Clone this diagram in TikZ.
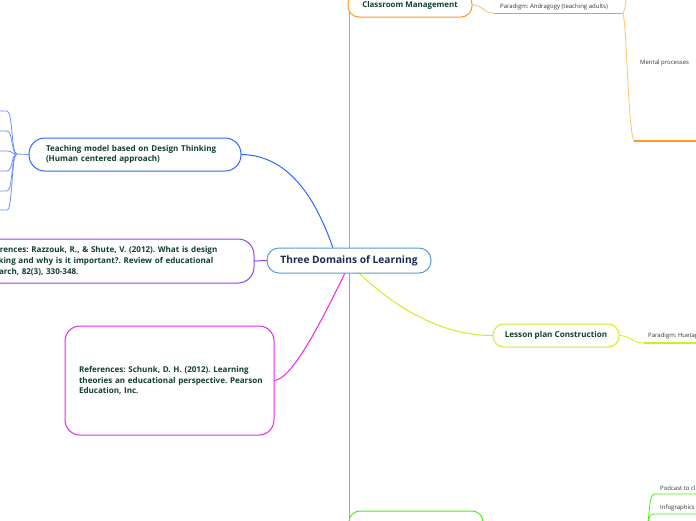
\documentclass[tikz,border=0pt]{standalone}
\usepackage{fontspec}
\setmainfont{Open Sans}
\usetikzlibrary{backgrounds}
\frenchspacing
\definecolor{cblue}{HTML}{5B9BD5}
\definecolor{tblue}{HTML}{2F64FF}
\definecolor{fblue}{HTML}{6F8FFF}
\definecolor{cpurp}{HTML}{9040F0}
\definecolor{cmag}{HTML}{EE22EE}
\definecolor{corange}{HTML}{FF9A22}
\definecolor{lorange}{HTML}{FFC070}
\definecolor{cyel}{HTML}{CCEE22}
\definecolor{cgreen}{HTML}{4CEE1A}
\definecolor{txtg}{HTML}{123F30}
\definecolor{txtn}{HTML}{1A2A55}
\definecolor{txts}{HTML}{333333}
\tikzset{
  box/.style={draw=#1, fill=white, line width=1pt, inner sep=0pt, outer sep=0pt, anchor=north west},
  bt/.style={font=\fontsize{8.05}{10.8}\selectfont\bfseries, text=txtg},
  small/.style={font=\fontsize{6}{7}\selectfont, text=txts, inner sep=0pt, anchor=west},
  conn/.style={draw=#1, line width=1pt},
}
\begin{document}
\begin{tikzpicture}[x=1pt,y=-1pt]
\useasboundingbox (0,0) rectangle (696,520);
\clip (0,0) rectangle (696,520);
% central
\node[box=cblue, rounded corners=12pt, minimum width=164pt, minimum height=25pt,
      font=\fontsize{10.2}{11}\selectfont\bfseries, text=txtn] (c) at (267,248) {Three Domains of Learning};
% teaching model
\node[box=tblue, rounded corners=16pt, minimum width=212pt, minimum height=33pt,
      bt, align=left, text width=178pt, inner xsep=17pt] (t) at (29,138)
      {Teaching model based on Design Thinking\\(Human centered approach)};
% Razzouk
\node[box=cpurp, rounded corners=16pt, minimum width=294pt, minimum height=44pt,
      bt, align=left, text width=250pt, inner xsep=22pt] (r) at (-40,239)
      {References: Razzouk, R., \& Shute, V. (2012). What is design\\thinking and why is it important?. Review of educational\\research, 82(3), 330-348.};
% Schunk
\node[box=cmag, rounded corners=15pt, minimum width=209pt, minimum height=109pt,
      bt, align=left, text width=181pt, inner xsep=14pt] (s) at (65,326)
      {\mbox{References: Schunk, D. H. (2012). Learning}\\\mbox{theories an educational perspective. Pearson}\\Education, Inc.};
% Classroom management
\node[box=corange, rounded corners=11pt, minimum width=124pt, minimum height=24pt,
      bt, font=\fontsize{7.9}{9}\selectfont\bfseries] (cm) at (348,-7) {Classroom Management};
% Lesson plan
\node[box=cyel, rounded corners=11pt, minimum width=126pt, minimum height=23pt,
      bt, font=\fontsize{8.1}{9}\selectfont\bfseries] (l) at (493,324) {Lesson plan Construction};
% bottom green node (cut)
\node[box=cgreen, rounded corners=11pt, minimum width=134pt, minimum height=40pt] (g) at (349,511) {};
% small leaf texts
\node[small] (pa) at (500,7) {Paradigm: Andragogy (teaching adults)};
\node[small] (mp) at (640,63) {Mental processes};
\node[small] (ph) at (648,336) {Paradigm: Huetagogy};
\node[small] (pc) at (660,488) {Podcast to class};
\node[small] (ig) at (660,508) {Infographics};
% coordinates
\coordinate (tf) at (17,154);
\coordinate (ob) at (623,13);
\begin{pgfonlayer}{background}
% main connectors
\draw[conn=tblue] (t.east) .. controls (292,155) and (318,205) .. ([xshift=-16pt]c.north);
\draw[conn=cpurp] (r.east) -- (c.west);
\draw[conn=cmag] (s.east) .. controls (292,380) and (322,320) .. ([xshift=-4pt]c.south);
\draw[conn=cyel] ([xshift=10pt]c.south) .. controls (392,305) and (440,336) .. (l.west);
\draw[conn=corange, line width=1.6pt] ([xshift=0.5pt]c.north) -- ([xshift=0.5pt]c.north |- cm.east);
\draw[conn=cgreen, line width=1.6pt] ([xshift=0.5pt]c.south) -- ([xshift=0.5pt]c.south |- g.east);
% teaching fan
\draw[conn=fblue, line width=0.8pt] (t.west) -- (tf);
\foreach \yy in {111,131,151,171,191,210}{
  \draw[conn=fblue, line width=0.8pt] (tf) .. controls (11,154) and (13,\yy) .. (7,\yy) -- (0,\yy);
}
% classroom sub
\draw[draw=lorange, line width=0.8pt] (cm.east) .. controls (484,5) and (482,13) .. (494,13);
\draw[draw=corange, line width=1pt] (494,13) -- (ob);
\draw[draw=lorange, line width=0.8pt] (ob) .. controls (626,8) and (625,3) .. (627,-5);
\draw[draw=lorange, line width=0.8pt] (ob) .. controls (627,30) and (628,130) .. (634,141);
\draw[draw=corange, line width=1.2pt] (634,141) -- (696,141);
% lesson sub
\draw[draw=cyel, line width=0.8pt] (l.east) .. controls (632,336) and (632,343) .. (644,343);
\draw[draw=cyel, line width=1.2pt] (644,343) -- (696,343);
% green leaves
\draw[draw=cgreen, line width=0.8pt] (648,522) .. controls (650,505) and (650,494) .. (655,494) -- (696,494);
\draw[draw=cgreen, line width=0.8pt] (648,522) .. controls (650,515) and (650,514) .. (655,514) -- (696,514);
\end{pgfonlayer}
\end{tikzpicture}
\end{document}
